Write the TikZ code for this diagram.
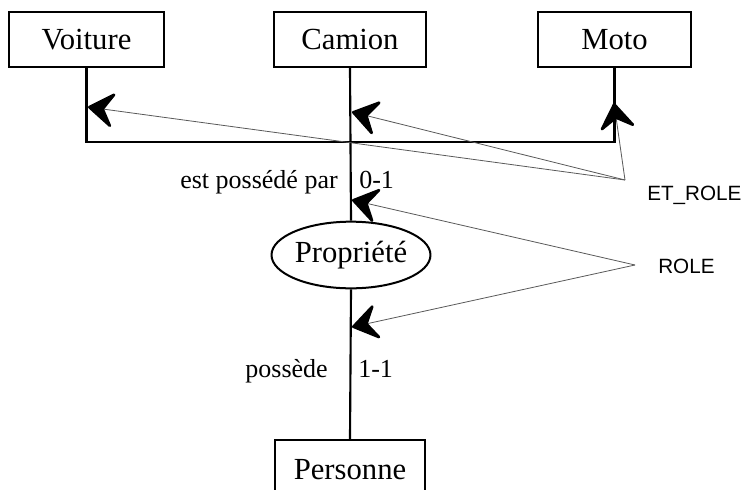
\documentclass[tikz,border=0pt]{standalone}
\usepackage{fontspec}
\setmainfont{Liberation Serif}
\newfontfamily\arialfont{Liberation Sans}
\usetikzlibrary{arrows.meta,shapes.geometric}
\tikzset{
  entity/.style={draw, line width=1.5pt, inner sep=0pt, minimum height=41pt,
                 font=\fontsize{23}{26}\selectfont},
  relation/.style={draw, ellipse, line width=1.5pt, inner sep=0pt,
                   minimum width=114pt, minimum height=50pt,
                   font=\fontsize{23}{26}\selectfont},
  link/.style={line width=1.6pt},
  card/.style={inner sep=0pt, font=\fontsize{19.5}{22}\selectfont},
  tag/.style={inner sep=0pt, font=\arialfont\fontsize{15.5}{18}\selectfont},
  pointer/.style={line width=0.6pt, draw=black!65,
                  -{Stealth[length=22pt, width=30pt, inset=9pt, line width=2pt,
                           round, color=black]}},
}
\begin{document}
\begin{tikzpicture}[x=0.75pt, y=-0.75pt]
  \useasboundingbox (0,0) rectangle (744,490);
  \clip (0,0) rectangle (744,490);

  % entities
  \node[entity, minimum width=116pt] (voiture) at (86.5,39.5) {Voiture};
  \node[entity, minimum width=114pt] (camion) at (350,39.5) {Camion};
  \node[entity, minimum width=115pt] (moto) at (614.5,39.5) {Moto};
  \node[entity, minimum width=112pt, minimum height=45pt] (personne) at (350,470) {Personne};

  % relationship
  \node[relation] (propriete) at (351,255) {Propriété};

  % junction of the three vehicle types
  \coordinate (junction) at (350,142);
  \draw[link] (voiture.south) -- (voiture.south |- junction)
              -- (moto.south |- junction) -- (moto.south);
  \draw[link] (camion.south) -- (propriete.north);
  \draw[link] (propriete.south) -- (personne.north);

  % cardinalities
  \node[card, anchor=base east] (lblA) at (338,188) {est possédé par};
  \node[card, anchor=base west] (cardA) at (359,188) {0-1};
  \node[card, anchor=base east] (lblB) at (328,377) {possède};
  \node[card, anchor=base west] (cardB) at (358,377) {1-1};

  % annotation tags
  \coordinate (etsrc) at (625,180);
  \coordinate (rolesrc) at (635,265);
  \node[tag, anchor=base west] (etrole) at (647,200) {ET\_ROLE};
  \node[tag, anchor=base west] (role) at (658,273) {ROLE};

  % pointer targets on the lines
  \coordinate (tv) at (88,107);
  \coordinate (tc) at (352,112);
  \coordinate (tm) at (614,103);
  \coordinate (tp) at (352,200);
  \coordinate (tq) at (352,327);

  \draw[pointer] (etsrc) -- (tv);
  \draw[pointer] (etsrc) -- (tc);
  \draw[pointer] (etsrc) -- (tm);
  \draw[pointer] (rolesrc) -- (tp);
  \draw[pointer] (rolesrc) -- (tq);
\end{tikzpicture}
\end{document}
